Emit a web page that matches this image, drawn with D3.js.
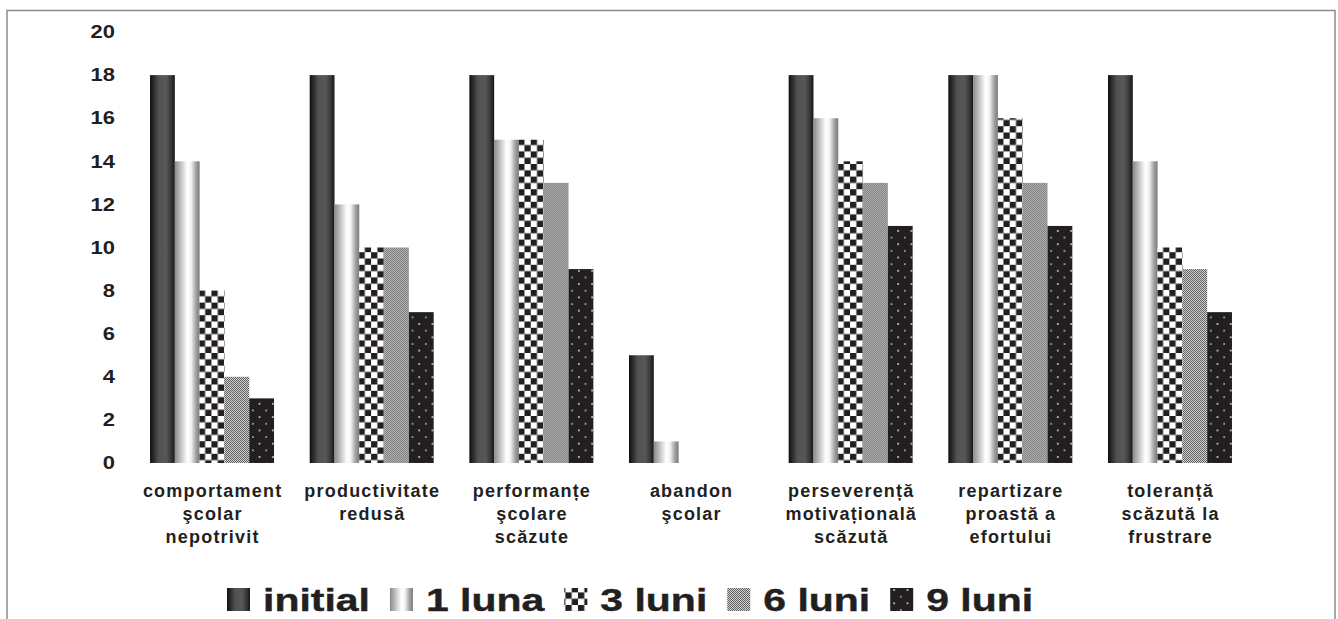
<!DOCTYPE html>
<html>
<head>
<meta charset="utf-8">
<script src="https://cdn.jsdelivr.net/npm/d3@7"></script>
<style>
  body { margin: 0; background: #fff; }
  svg { display: block; }
</style>
</head>
<body>
<svg id="chart" width="1338" height="619"></svg>
<script>
// Categories (each entry is the wrapped label lines)
const categories = [
  ["comportament", "şcolar", "nepotrivit"],
  ["productivitate", "redusă"],
  ["performanțe", "şcolare", "scăzute"],
  ["abandon", "şcolar"],
  ["perseverență", "motivațională", "scăzută"],
  ["repartizare", "proastă a", "efortului"],
  ["toleranță", "scăzută la", "frustrare"]
];

// Series names and values per category
const seriesNames = ["initial", "1 luna", "3 luni", "6 luni", "9 luni"];
const valuesInitial = [18, 18, 18, 5, 18, 18, 18];
const values1Luna   = [14, 12, 15, 1, 16, 18, 14];
const values3Luni   = [8, 10, 15, 0, 14, 16, 10];
const values6Luni   = [4, 10, 13, 0, 13, 13, 9];
const values9Luni   = [3, 7, 9, 0, 11, 11, 7];
const yTicks = [0, 2, 4, 6, 8, 10, 12, 14, 16, 18, 20];

const seriesValues = [valuesInitial, values1Luna, values3Luni, values6Luni, values9Luni];
const fills = ["url(#gInitial)", "url(#gLuna)", "url(#pChecker)", "url(#pDither)", "url(#pDots)"];
const ink = "#231f20";

const svg = d3.select("#chart");
const defs = svg.append("defs");

// --- fills ---
function gradient(id, stops) {
  const g = defs.append("linearGradient").attr("id", id)
    .attr("x1", 0).attr("x2", 1).attr("y1", 0).attr("y2", 0);
  stops.forEach(([o, c]) => g.append("stop").attr("offset", o).attr("stop-color", c));
}
gradient("gInitial", [[0, "#0f0f0f"], [0.12, "#262626"], [0.35, "#525252"], [0.65, "#575757"], [0.85, "#383838"], [1, "#151515"]]);
gradient("gLuna", [[0, "#8a8a8a"], [0.2, "#b8b8b8"], [0.5, "#ffffff"], [0.65, "#f4f4f4"], [0.85, "#a2a2a2"], [1, "#7a7a7a"]]);

const chk = defs.append("pattern").attr("id", "pChecker")
  .attr("patternUnits", "userSpaceOnUse").attr("width", 12.6).attr("height", 12.6)
  .attr("x", 200).attr("y", 290);
chk.append("rect").attr("width", 12.6).attr("height", 12.6).attr("fill", "#fff");
chk.append("rect").attr("width", 6.3).attr("height", 6.3).attr("fill", ink);
chk.append("rect").attr("x", 6.3).attr("y", 6.3).attr("width", 6.3).attr("height", 6.3).attr("fill", ink);

const dit = defs.append("pattern").attr("id", "pDither")
  .attr("patternUnits", "userSpaceOnUse").attr("width", 2).attr("height", 2);
dit.append("rect").attr("width", 2).attr("height", 2).attr("fill", "#d2d2d2");
dit.append("rect").attr("width", 1).attr("height", 1).attr("fill", "#606060");
dit.append("rect").attr("x", 1).attr("y", 1).attr("width", 1).attr("height", 1).attr("fill", "#606060");

const dots = defs.append("pattern").attr("id", "pDots")
  .attr("patternUnits", "userSpaceOnUse").attr("width", 13.3).attr("height", 13.3)
  .attr("x", 252).attr("y", 400);
dots.append("rect").attr("width", 13.3).attr("height", 13.3).attr("fill", ink);
dots.append("rect").attr("x", 3).attr("y", 3).attr("width", 1.6).attr("height", 1.6).attr("fill", "#e8e8e8");
dots.append("rect").attr("x", 9.7).attr("y", 9.7).attr("width", 1.6).attr("height", 1.6).attr("fill", "#bdbdbd");

// --- frame ---
const frame = svg.append("g").attr("fill", "none").attr("stroke", "#8c8c8c").attr("stroke-width", 1.5);
frame.append("path").attr("d", "M7,625 V10.5 H1335 V625");

// --- scales ---
const y = d3.scaleLinear().domain([0, 20]).range([463, 32]);
const x0 = d3.scaleBand().domain(d3.range(categories.length))
  .range([132.2, 1249.8]).paddingInner(0.2234).paddingOuter(0.1117);
const x1 = d3.scaleBand().domain(seriesNames).range([0, x0.bandwidth()]);

// --- y axis labels ---
const yAxis = svg.append("g").attr("transform", "translate(115,0)")
  .call(d3.axisLeft(y).tickValues(yTicks).tickSize(0).tickPadding(0));
yAxis.select(".domain").remove();
yAxis.selectAll("text")
  .attr("font-family", "'Liberation Sans', Arial, sans-serif")
  .attr("font-size", 18).attr("font-weight", "bold").attr("fill", ink)
  .attr("x", 0).attr("transform", "scale(1.22,1)");

// --- bars ---
const groups = svg.append("g").selectAll("g").data(categories).join("g")
  .attr("transform", (d, i) => `translate(${x0(i)},0)`);
groups.selectAll("rect")
  .data((d, i) => seriesNames.map((s, k) => ({ s, k, v: seriesValues[k][i] })).filter(e => e.v > 0))
  .join("rect")
  .attr("x", e => x1(e.s))
  .attr("y", e => y(e.v))
  .attr("width", x1.bandwidth())
  .attr("height", e => y(0) - y(e.v))
  .attr("fill", e => fills[e.k]);

// --- category labels ---
const labels = svg.append("g")
  .attr("font-family", "'Liberation Sans', Arial, sans-serif")
  .attr("font-size", 18).attr("font-weight", "bold").attr("fill", ink)
  .attr("text-anchor", "middle").attr("letter-spacing", "1.2px");
categories.forEach((lines, i) => {
  const t = labels.append("text");
  lines.forEach((ln, j) => {
    t.append("tspan").attr("x", x0(i) + x0.bandwidth() / 2 + 0.6).attr("y", 497 + j * 23).text(ln);
  });
});

// --- legend ---
const legend = svg.append("g");
let lx = 227;
seriesNames.forEach((name, k) => {
  legend.append("rect").attr("x", lx).attr("y", 588).attr("width", 23).attr("height", 23).attr("fill", fills[k]);
  const t = legend.append("text")
    .attr("transform", `translate(${lx + 36},611) scale(1.28,1)`)
    .attr("font-family", "'Liberation Sans', Arial, sans-serif")
    .attr("font-size", 32).attr("font-weight", "bold").attr("fill", ink)
    .attr("stroke", ink).attr("stroke-width", 0.4)
    .text(name);
  lx += 36 + t.node().getComputedTextLength() * 1.28 + 20;
});
</script>
</body>
</html>
